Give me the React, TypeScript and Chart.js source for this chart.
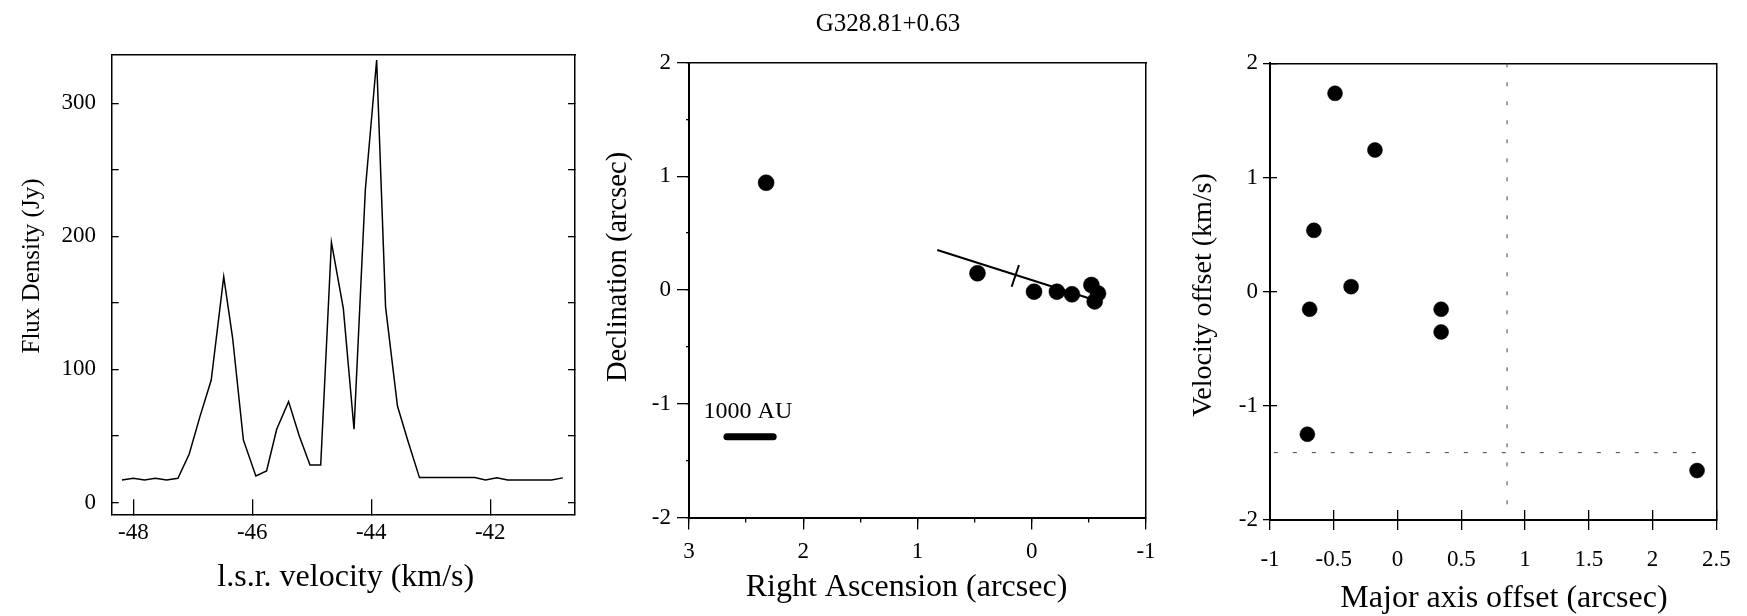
import React, { useEffect, useRef } from "react";
import { Chart, registerables } from "chart.js";

Chart.register(...registerables);

const W = 1747;
const H = 616;
const SERIF = '"Liberation Serif", "Times New Roman", Times, serif';

// ---------- Panel 1: spectrum ----------
const specVelocity = [
  -48.19, -48.0, -47.81, -47.63, -47.44, -47.25, -47.06, -46.88, -46.69, -46.48, -46.33,
  -46.15, -45.94, -45.76, -45.59, -45.39, -45.21, -45.03, -44.85, -44.67, -44.47, -44.29,
  -44.1, -43.91, -43.76, -43.56, -43.38, -43.19, -43.0, -42.82, -42.63, -42.45, -42.26,
  -42.08, -41.89, -41.71, -41.52, -41.34, -41.15, -40.97, -40.78,
];
const specFlux = [
  16.9, 18.2, 16.9, 18.2, 16.9, 18.2, 36.4, 64.5, 92, 169.7, 123.4, 47, 19.9, 23.7, 55,
  75.8, 50, 28.2, 28.2, 195.5, 145.9, 55, 235, 332.5, 147, 72.5, 45.7, 18.7, 18.7, 18.7,
  18.7, 18.7, 18.7, 16.9, 18.5, 16.9, 16.9, 16.9, 16.9, 16.9, 18.5,
];

// ---------- Panel 2: spot map ----------
const spotRA = [2.325, 0.475, -0.02, -0.22, -0.352, -0.522, -0.58, -0.551];
const spotDec = [0.943, 0.147, -0.015, -0.015, -0.038, 0.044, -0.03, -0.1];
const fitLineRA = [0.827, -0.528];
const fitLineDec = [0.352, -0.082];
const fitTickRA = [0.176, 0.112];
const fitTickDec = [0.029, 0.22];
const scaleBarRA = [2.668, 2.263];
const scaleBarDec = [-1.29, -1.29];
const scaleBarLabel = "1000 AU";
const scaleBarLabelPos = [2.484, -1.07];

// ---------- Panel 3: position-velocity ----------
const pvOffset = [-0.49, -0.177, -0.656, -0.364, -0.689, 0.342, 0.342, -0.707, 2.349];
const pvVelocity = [1.737, 1.241, 0.537, 0.044, -0.154, -0.154, -0.353, -1.249, -1.567];
const refOffset = 0.859;
const refVelocity = -1.41;
const refVertSpan = [2, -1.92];
const refHorizSpan = [-0.97, 2.45];

const figureTitle = "G328.81+0.63";

const pts = (xs: number[], ys: number[]) => xs.map((x, i) => ({ x, y: ys[i] }));
const f = (size: number) => ({ family: SERIF, size, weight: "normal" as const, lineHeight: 1.2 });
const plainLabel = (v: number) => String(Math.round(v * 100) / 100);

type TextItem = {
  text: string;
  x?: number;
  y?: number;
  dataX?: number;
  dataY?: number;
  size: number;
  rotate?: number;
  baseline?: CanvasTextBaseline;
};

const makeTextPlugin = (items: TextItem[]) => ({
  id: "panelTexts",
  afterDraw(chart: any) {
    const ctx = chart.ctx as CanvasRenderingContext2D;
    for (const t of items) {
      let x = t.x ?? 0;
      let y = t.y ?? 0;
      if (t.dataX !== undefined && t.dataY !== undefined) {
        x = chart.scales.x.getPixelForValue(t.dataX);
        y = chart.scales.y.getPixelForValue(t.dataY);
      }
      ctx.save();
      ctx.font = `${t.size}px ${SERIF}`;
      ctx.fillStyle = "#000";
      ctx.textAlign = "center";
      ctx.textBaseline = t.baseline ?? "middle";
      ctx.translate(x, y);
      if (t.rotate) ctx.rotate(t.rotate);
      ctx.fillText(t.text, 0, 0);
      ctx.restore();
    }
  },
});

const frameAxis = (axis: "x" | "y", position: string, min: number, max: number, reverse = false, width = 1.5) => ({
  type: "linear",
  axis,
  position,
  min,
  max,
  reverse,
  ticks: { display: false },
  grid: { display: true, drawOnChartArea: false, drawTicks: false },
  border: { display: true, color: "#000", width },
  afterFit: (s: any) => {
    if (axis === "x") s.height = 0;
    else s.width = 0;
  },
});

const tickAxis = (
  axis: "x" | "y",
  position: string,
  min: number,
  max: number,
  step: number,
  tickLength: number,
  opts: { reverse?: boolean; weight?: number; labels?: boolean; padding?: number; size: number; borderWidth?: number; callback?: any }
) => ({
  type: "linear",
  axis,
  position,
  min,
  max,
  reverse: !!opts.reverse,
  weight: opts.weight ?? 0,
  ticks: {
    display: !!opts.labels,
    stepSize: step,
    includeBounds: false,
    autoSkip: false,
    maxRotation: 0,
    minRotation: 0,
    font: f(23),
    color: "#000",
    padding: opts.padding ?? 0,
    callback: opts.callback ?? plainLabel,
  },
  grid: {
    display: true,
    drawOnChartArea: false,
    drawTicks: true,
    tickLength,
    color: "#000",
    lineWidth: 1.3,
  },
  border: { display: opts.borderWidth ? true : false, color: "#000", width: opts.borderWidth ?? 1.5 },
  afterFit: (s: any) => {
    if (axis === "x") s.height = opts.size;
    else s.width = opts.size;
  },
});

const baseOptions = (padding: any) => ({
  responsive: false,
  animation: false,
  events: [],
  layout: { padding },
  plugins: { legend: { display: false }, tooltip: { enabled: false }, title: { display: false } },
});

// ---------- configs ----------
const leftConfig = () => {
  const L = 111.7, R = 575, T = 54.3, B = 514.3;
  const xmin = -48.363, xmax = -40.576, ymin = -8.87, ymax = 336.8;
  return {
    type: "scatter",
    data: {
      datasets: [
        {
          data: pts(specVelocity, specFlux),
          showLine: true,
          borderColor: "#000",
          borderWidth: 1.5,
          pointRadius: 0,
          tension: 0,
          fill: false,
        },
      ],
    },
    options: {
      ...baseOptions({ left: 0, top: T, right: W - R, bottom: 0 }),
      scales: {
        x: tickAxis("x", "bottom", xmin, xmax, 2, -15, { labels: true, padding: 20.2, size: H - B, borderWidth: 1.5, weight: 1 }),
        xTop: frameAxis("x", "top", xmin, xmax),
        y: tickAxis("y", "left", ymin, ymax, 50, -7, {
          labels: true,
          padding: 22.7,
          size: L,
          borderWidth: 1.5,
          weight: 1,
          callback: (v: number) => (v % 100 === 0 ? String(v) : ""),
        }),
        yRight: tickAxis("y", "right", ymin, ymax, 50, -7, { size: 0, borderWidth: 1.5 }),
      },
    },
    plugins: [
      makeTextPlugin([
        { text: "Flux Density (Jy)", x: 32, y: 266, size: 25, rotate: -Math.PI / 2 },
        { text: "l.s.r. velocity (km/s)", x: 345.8, y: 578, size: 32 },
      ]),
    ],
  };
};

const middleConfig = () => {
  const L = 689, R = 1146, T = 62.5, B = 517.5;
  return {
    type: "scatter",
    data: {
      datasets: [
        { data: pts(fitLineRA, fitLineDec), showLine: true, borderColor: "#000", borderWidth: 2, pointRadius: 0 },
        { data: pts(fitTickRA, fitTickDec), showLine: true, borderColor: "#000", borderWidth: 2, pointRadius: 0 },
        {
          data: pts(scaleBarRA, scaleBarDec),
          showLine: true,
          borderColor: "#000",
          borderWidth: 7,
          borderCapStyle: "round",
          pointRadius: 0,
        },
        {
          data: pts(spotRA, spotDec),
          showLine: false,
          pointRadius: 8,
          pointBackgroundColor: "#000",
          pointBorderColor: "#000",
          pointBorderWidth: 0.5,
        },
      ],
    },
    options: {
      ...baseOptions({ left: 0, top: T, right: W - R, bottom: 0 }),
      scales: {
        xMinor: tickAxis("x", "bottom", -1, 3, 0.5, 5, { reverse: true, size: 0, weight: 0 }),
        x: tickAxis("x", "bottom", -1, 3, 1, 12, { reverse: true, labels: true, padding: 8.5, size: H - B, borderWidth: 2, weight: 1 }),
        xTop: frameAxis("x", "top", -1, 3, true),
        yMinor: tickAxis("y", "left", -2, 2, 0.5, 3, { size: 0, weight: 0 }),
        y: tickAxis("y", "left", -2, 2, 1, 12, { labels: true, padding: 6, size: L, borderWidth: 2, weight: 1 }),
        yRight: frameAxis("y", "right", -2, 2),
      },
    },
    plugins: [
      makeTextPlugin([
        { text: figureTitle, x: 888, y: 31, size: 25, baseline: "alphabetic" },
        { text: "Declination (arcsec)", x: 619, y: 267, size: 28.5, rotate: -Math.PI / 2 },
        { text: "Right Ascension (arcsec)", x: 906.5, y: 588, size: 32 },
        { text: scaleBarLabel, dataX: scaleBarLabelPos[0], dataY: scaleBarLabelPos[1], size: 24 },
      ]),
    ],
  };
};

const rightConfig = () => {
  const L = 1270, R = 1728, T = 63.3, B = 520;
  return {
    type: "scatter",
    data: {
      datasets: [
        {
          data: pts(pvOffset, pvVelocity),
          showLine: false,
          pointRadius: 7.5,
          pointBackgroundColor: "#000",
          pointBorderColor: "#000",
          pointBorderWidth: 0.5,
        },
        {
          data: pts([refOffset, refOffset], refVertSpan),
          showLine: true,
          borderColor: "#444",
          borderWidth: 1,
          borderDash: [4, 15],
          pointRadius: 0,
        },
        {
          data: pts(refHorizSpan, [refVelocity, refVelocity]),
          showLine: true,
          borderColor: "#444",
          borderWidth: 1,
          borderDash: [4, 15],
          pointRadius: 0,
        },
      ],
    },
    options: {
      ...baseOptions({ left: 0, top: T, right: W - R, bottom: 0 }),
      scales: {
        xIn: tickAxis("x", "bottom", -1, 2.5, 0.5, -10, { size: 0, weight: 0 }),
        x: tickAxis("x", "bottom", -1, 2.5, 0.5, 10, { labels: true, padding: 16.3, size: H - B, borderWidth: 2, weight: 1 }),
        xTop: frameAxis("x", "top", -1, 2.5),
        yIn: tickAxis("y", "left", -2, 2, 1, -7, { size: 0, weight: 0 }),
        y: tickAxis("y", "left", -2, 2, 1, 7, { labels: true, padding: 5, size: L, borderWidth: 2, weight: 1 }),
        yRight: frameAxis("y", "right", -2, 2),
      },
    },
    plugins: [
      makeTextPlugin([
        { text: "Velocity offset (km/s)", x: 1204, y: 295, size: 28, rotate: -Math.PI / 2 },
        { text: "Major axis offset (arcsec)", x: 1504, y: 599, size: 32 },
      ]),
    ],
  };
};

function Panel({ make }: { make: () => any }) {
  const ref = useRef<HTMLCanvasElement>(null);
  useEffect(() => {
    if (!ref.current) return;
    const chart = new Chart(ref.current, make());
    return () => chart.destroy();
  }, [make]);
  return (
    <canvas
      ref={ref}
      width={W}
      height={H}
      style={{ position: "absolute", left: 0, top: 0, width: W, height: H, display: "block" }}
    />
  );
}

export default function App() {
  return (
    <div
      style={{
        position: "fixed",
        left: 0,
        top: 0,
        width: W,
        height: H,
        background: "#fff",
        overflow: "hidden",
      }}
    >
      <Panel make={leftConfig} />
      <Panel make={middleConfig} />
      <Panel make={rightConfig} />
    </div>
  );
}
